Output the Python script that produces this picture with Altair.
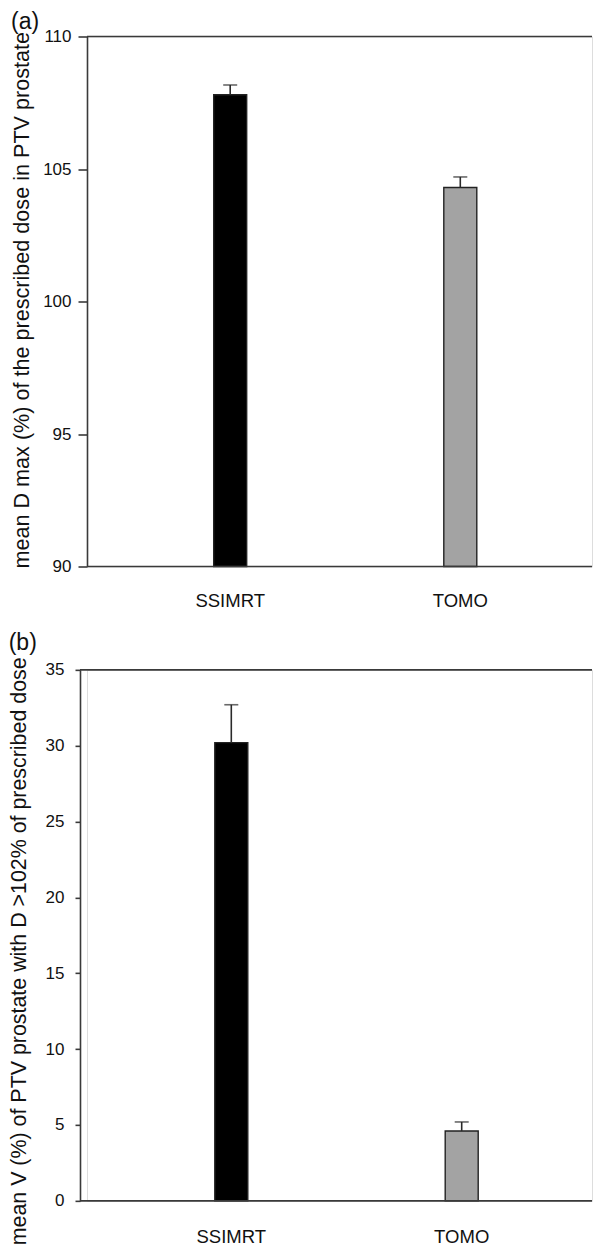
import altair as alt
import pandas as pd

# ---- data ----
categories = ["SSIMRT", "TOMO"]
bar_colors = ["#000000", "#a3a3a3"]

dmax_mean = [107.8, 104.3]
dmax_err = [0.37, 0.40]

v102_mean = [30.2, 4.6]
v102_err = [2.5, 0.6]

a_ticks = [90, 95, 100, 105, 110]
b_ticks = [0, 5, 10, 15, 20, 25, 30, 35]

a_title = "mean D max (%) of the prescribed dose in PTV prostate"
b_title = "mean V (%) of PTV prostate with D >102% of prescribed dose"

FONT = "Arial"
AXC = "#3a3a3a"


def panel(label, means, errs, ticks, ytitle, width, height, pad_outer, band_align,
          tick_size, label_pad, title_size, title_x, title_y, xlabel_pad,
          label_offset, axis_shift=0, bottom_guard=None):
    df = pd.DataFrame({
        "cat": categories,
        "mean": means,
        "top": [m + e for m, e in zip(means, errs)],
        "base": [ticks[0]] * len(means),
        "color": bar_colors,
    })
    x = alt.X("cat:N", sort=categories, title=None,
              scale=alt.Scale(paddingInner=0, paddingOuter=pad_outer, align=band_align),
              axis=alt.Axis(labelAngle=0, ticks=False, tickSize=0, domain=False,
                            grid=False, labelFont=FONT, labelFontSize=18.5,
                            labelColor="#111", labelPadding=xlabel_pad))
    yaxis = alt.Axis(values=ticks, tickSize=tick_size, tickColor=AXC, tickWidth=1.6,
                     domainColor=AXC, domainWidth=1.6, grid=False, offset=axis_shift,
                     labelFont=FONT, labelFontSize=17, labelColor="#111",
                     labelPadding=label_pad,
                     titleFont=FONT, titleFontSize=title_size, titleFontWeight="normal",
                     titleColor="#111", titleX=title_x, titleY=title_y,
                     titleAlign="right", titleBaseline="middle", titleAngle=270)
    yscale = alt.Scale(domain=[ticks[0], ticks[-1]], nice=False, zero=False)
    base = alt.Chart(df)
    bars = base.mark_bar(size=33, stroke="#222", strokeWidth=1.4).encode(
        x=x,
        y=alt.Y("mean:Q", title=ytitle, scale=yscale, axis=yaxis),
        y2="base:Q",
        color=alt.Color("color:N", scale=None),
    )
    err = base.mark_rule(color="#2a2a2a", strokeWidth=1.6).encode(
        x=x,
        y=alt.Y("mean:Q", title=ytitle, scale=yscale, axis=yaxis),
        y2="top:Q",
    )
    cap = base.mark_tick(size=14, thickness=1.6, color="#2a2a2a", orient="horizontal").encode(
        x=x,
        y=alt.Y("top:Q", title=ytitle, scale=yscale, axis=yaxis),
    )
    # frame lines at the bottom and top of the value range, joined to the y axis
    frame = alt.Chart(pd.DataFrame({"v": [ticks[0], ticks[-1]]})).mark_rule(
        color=AXC, strokeWidth=1.6).encode(
        y=alt.Y("v:Q", title=ytitle, scale=yscale, axis=yaxis),
        x=alt.value(-axis_shift), x2=alt.value(width))
    layers = [bars, err, cap, frame]
    if bottom_guard is not None:
        # invisible spacer that fixes the lower edge of this panel's layout box
        layers.append(alt.Chart(pd.DataFrame({"v": [0]})).mark_rule(opacity=0).encode(
            y=alt.value(bottom_guard)))
    ch = alt.layer(*layers).properties(
        width=width, height=height,
        title=alt.TitleParams(label, anchor="start", frame="bounds", fontSize=23,
                              font=FONT, fontWeight="normal", color="#111",
                              baseline="alphabetic", offset=label_offset),
    )
    return alt.hconcat(ch, spacing=0)


pa = panel("(a)", dmax_mean, dmax_err, a_ticks, a_title, 505, 530,
           0.09735, 0.6283, 9, 7, 21.6, -65.0, -5, 25, -24.25, bottom_guard=610)
pb = panel("(b)", v102_mean, v102_err, b_ticks, b_title, 505, 531,
           0.09592, 0.6584, 5, 11, 21.4, -60.3, -13, 27, -15.8, axis_shift=7)

chart = alt.VConcatChart(vconcat=[pa, pb], spacing=-16.65,
                         padding={"left": 0, "top": 1.5, "right": 0, "bottom": 0}
                         ).configure_view(stroke=None).configure(background="white")

chart.save("out.html", embed_options={"renderer": "svg", "actions": False})
